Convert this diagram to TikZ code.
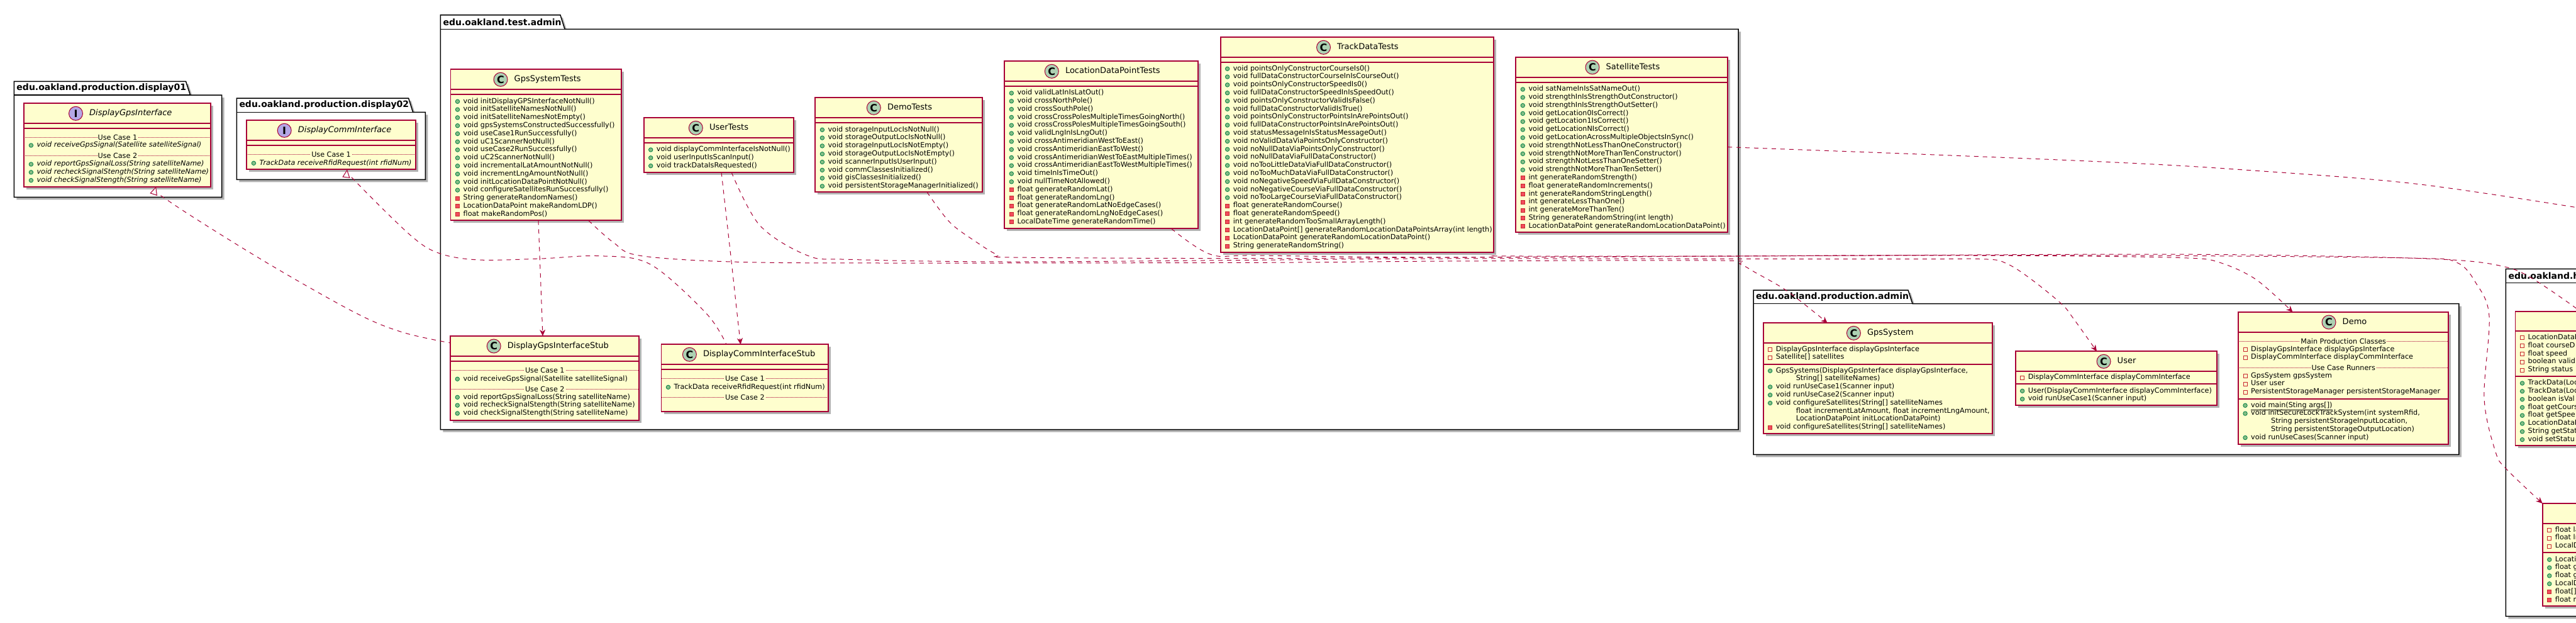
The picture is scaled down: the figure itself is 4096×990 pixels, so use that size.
\documentclass[tikz,border=0pt]{standalone}
\usepackage{fontspec}
\setmainfont{DejaVu Sans}
\usepackage{tikz}
\usetikzlibrary{positioning,calc,shadows,arrows.meta}

\definecolor{classfill}{HTML}{FEFECE}
\definecolor{classline}{HTML}{A80036}
\definecolor{spotCfill}{HTML}{ADD1B2}
\definecolor{spotIfill}{HTML}{B4A7E5}
\definecolor{pubfill}{HTML}{84BE84}
\definecolor{publine}{HTML}{038048}
\definecolor{privfill}{HTML}{F24D5C}
\definecolor{privline}{HTML}{C82930}

\tikzset{
    softshadow/.style={drop shadow={shadow xshift=4pt,shadow yshift=-4pt,fill=black!55,opacity=.55}},
    classbox/.style={rectangle, draw=classline, fill=classfill, line width=1.9pt,
        inner sep=0pt, outer sep=0pt, anchor=north west, softshadow},
    classrule/.style={draw=classline, line width=1.9pt},
    pkgbody/.style={draw=black, fill=white, line width=1.5pt, softshadow},
    pkglabel/.style={font=\fontsize{14}{16}\selectfont\bfseries, anchor=west, inner sep=0pt},
    spotC/.style={circle, draw=classline, fill=spotCfill, line width=1pt, minimum size=22pt, inner sep=0pt,
        font=\fontsize{16}{16}\selectfont\bfseries},
    spotI/.style={spotC, fill=spotIfill},
    classtitle/.style={font=\fontsize{13}{16}\selectfont, inner sep=0pt, text height=10pt, text depth=3pt},
    rowtext/.style={font=\fontsize{11.2}{13}\selectfont, anchor=mid west, inner sep=0pt, xshift=20pt},
    pub/.style={circle, draw=publine, fill=pubfill, line width=.8pt, minimum size=6.5pt, inner sep=0pt, xshift=11pt},
    priv/.style={rectangle, draw=privline, fill=privfill, line width=.8pt, minimum size=6pt, inner sep=0pt, xshift=11pt},
    field/.style={priv, fill=none},
    cont/.style={inner sep=0pt, minimum size=0pt, xshift=11pt},
    seprule/.style={draw=classline, line width=.7pt, dash pattern=on 1pt off 1pt},
    seplabel/.style={font=\fontsize{11.2}{13}\selectfont, fill=classfill, inner sep=1pt},
    dep/.style={draw=classline, line width=1pt, dash pattern=on 7pt off 7pt},
}

% rows of one compartment: box, suffix, first y, kind/text list
\newcommand{\umlrows}[4]{
    \foreach [count=\ri] \kind/\txt in {#4}{
        \pgfmathsetmacro{\rowy}{#3+(\ri-1)*12.8}
        \node[\kind] (#1-#2-\ri-m) at (#1.west |- 0,\rowy) {};
        \node[rowtext] (#1-#2-\ri) at (#1.west |- 0,\rowy) {\txt};
    }
}
% dotted separator with a caption
\newcommand{\umlsep}[4]{
    \draw[seprule] (#1.west |- 0,#3) -- (#1.east |- 0,#3);
    \node[seplabel] (#1-#2) at (#1.center |- 0,#3) {#4};
}
\newcommand{\wrapped}{\hspace*{32pt}}

\begin{document}
\begin{tikzpicture}[x=1pt,y=-1pt]
    \useasboundingbox (0,0) rectangle (4096,990);

    % Packages
    \foreach \pk/\xa/\ya/\tabr/\yb/\xb/\yc/\lbl in {
        display01/22.3/129.3/295.5/151/352.7/313.3/edu.oakland.production.display01,
        display02/376.3/156/649.6/178.3/676.3/285.3/edu.oakland.production.display02,
        testadmin/700.4/24/891/46.3/2764/682.7/edu.oakland.test.admin,
        prodadmin/2788/461/3034/482.7/3909.8/722.3/edu.oakland.production.admin,
        helper/3984.4/427.3/4250/449.3/4400/979.3/edu.oakland.h}{
        \path[pkgbody] (\xa,\yb) -- (\xa,\ya) -- (\tabr,\ya) -- (\tabr+7,\yb) -- (\xb,\yb)
            -- (\xb,\yc) -- (\xa,\yc) -- cycle;
        \draw[line width=1.5pt] (\xa,\yb) -- (\tabr+7,\yb);
        \node[pkglabel] (\pk-label) at (\xa+4,{(\ya+\yb)/2}) {\lbl};
    }

    % Class boxes
    \foreach \cname/\xa/\ya/\xb/\yb/\da/\db in {
        displaygps/38.4/164.3/335.3/296.7/196.3/204.3,
        displaycomm/392.4/191.3/660.7/269.3/223.3/231.3,
        gpstests/716.5/110.3/988.4/350.3/142.3/150.3,
        usertests/1023.7/187.3/1261.6/273.7/219.3/227.3,
        demotests/1296.4/155.3/1561.6/305.3/187.3/195.3,
        ldptests/1597.3/97.3/1905.4/363.3/129.3/137.3,
        tracktests/1940.6/59.3/2375.4/401.3/91.3/99.3,
        sattests/2410.3/91/2747/369.3/123.3/131.3,
        gpsstub/716.3/534/1016.3/667.7/566.3/574.3,
        commstub/1051.5/547.3/1317.3/654.3/579.3/587.3,
        gpssys/2803.6/513.3/3168.4/689.3/545.3/578.7,
        usercls/3204.6/558.3/3524.6/644.3/590.3/610.3,
        democls/3559/496/3893.4/705.7/528.3/633.7,
        trackcls/3999.5/494.7/4400/708.3/526.3/598.3,
        ldpcls/4042.7/800/4400/963.3/832.3/878.3}{
        \node[classbox, minimum width={(\xb-\xa)*1pt}, minimum height={(\yb-\ya)*1pt}] (\cname) at (\xa,\ya) {};
        \draw[classrule] (\cname.west |- 0,\da) -- (\cname.east |- 0,\da);
        \draw[classrule] (\cname.west |- 0,\db) -- (\cname.east |- 0,\db);
    }

    % Headers
    \foreach \cname/\sx/\kind/\ttl in {
        displaygps/120.5/I/{\itshape DisplayGpsInterface},
        displaycomm/452.2/I/{\itshape DisplayCommInterface},
        gpstests/796/C/GpsSystemTests,
        usertests/1106.3/C/UserTests,
        demotests/1389.3/C/DemoTests,
        ldptests/1672.3/C/LocationDataPointTests,
        tracktests/2104.5/C/TrackDataTests,
        sattests/2532/C/SatelliteTests,
        gpsstub/785.2/C/DisplayGpsInterfaceStub,
        commstub/1096.4/C/DisplayCommInterfaceStub,
        gpssys/2947.4/C/GpsSystem,
        usercls/3345/C/User,
        democls/3703/C/Demo}{
        \node[spot\kind, yshift=-16pt] (\cname-spot) at (\sx,0 |- \cname.north) {\kind};
        \node[classtitle, right=10pt of \cname-spot] (\cname-title) {\ttl};
    }

    % Interfaces
    \umlsep{displaygps}{ucone}{218.3}{Use Case 1}
    \umlrows{displaygps}{a}{231}{pub/{\itshape void receiveGpsSignal(Satellite satelliteSignal)}}
    \umlsep{displaygps}{uctwo}{247}{Use Case 2}
    \umlrows{displaygps}{b}{261}{pub/{\itshape void reportGpsSignalLoss(String satelliteName)},
        pub/{\itshape void recheckSignalStength(String satelliteName)},
        pub/{\itshape void checkSignalStength(String satelliteName)}}
    \umlsep{displaycomm}{ucone}{245.3}{Use Case 1}
    \umlrows{displaycomm}{a}{259.3}{pub/{\itshape TrackData receiveRfidRequest(int rfidNum)}}

    % Test classes
    \umlrows{gpstests}{a}{161.3}{pub/{void initDisplayGPSInterfaceNotNull()},
        pub/{void initSatelliteNamesNotNull()},
        pub/{void initSatelliteNamesNotEmpty()},
        pub/{void gpsSystemsConstructedSuccessfully()},
        pub/{void useCase1RunSuccessfully()},
        pub/{void uC1ScannerNotNull()},
        pub/{void useCase2RunSuccessfully()},
        pub/{void uC2ScannerNotNull()},
        pub/{void incrementalLatAmountNotNull()},
        pub/{void incrementLngAmountNotNull()},
        pub/{void initLocationDataPointNotNull()},
        pub/{void configureSatellitesRunSuccessfully()},
        priv/{String generateRandomNames()},
        priv/{LocationDataPoint makeRandomLDP()},
        priv/{float makeRandomPos()}}
    \umlrows{usertests}{a}{238}{pub/{void displayCommInterfaceIsNotNull()},
        pub/{void userInputIsScanInput()},
        pub/{void trackDataIsRequested()}}
    \umlrows{demotests}{a}{206.3}{pub/{void storageInputLocIsNotNull()},
        pub/{void storageOutputLocIsNotNull()},
        pub/{void storageInputLocIsNotEmpty()},
        pub/{void storageOutputLocIsNotEmpty()},
        pub/{void scannerInputIsUserInput()},
        pub/{void commClassesInitialized()},
        pub/{void gisClassesInitialized()},
        pub/{void persistentStorageManagerInitialized()}}
    \umlrows{ldptests}{a}{148}{pub/{void validLatInIsLatOut()},
        pub/{void crossNorthPole()},
        pub/{void crossSouthPole()},
        pub/{void crossCrossPolesMultipleTimesGoingNorth()},
        pub/{void crossCrossPolesMultipleTimesGoingSouth()},
        pub/{void validLngInIsLngOut()},
        pub/{void crossAntimeridianWestToEast()},
        pub/{void crossAntimeridianEastToWest()},
        pub/{void crossAntimeridianWestToEastMultipleTimes()},
        pub/{void crossAntimeridianEastToWestMultipleTimes()},
        pub/{void timeInIsTimeOut()},
        pub/{void nullTimeNotAllowed()},
        priv/{float generateRandomLat()},
        priv/{float generateRandomLng()},
        priv/{float generateRandomLatNoEdgeCases()},
        priv/{float generateRandomLngNoEdgeCases()},
        priv/{LocalDateTime generateRandomTime()}}
    \umlrows{tracktests}{a}{109.3}{pub/{void pointsOnlyConstructorCourseIs0()},
        pub/{void fullDataConstructorCourseInIsCourseOut()},
        pub/{void pointsOnlyConstructorSpeedIs0()},
        pub/{void fullDataConstructorSpeedInIsSpeedOut()},
        pub/{void pointsOnlyConstructorValidIsFalse()},
        pub/{void fullDataConstructorValidIsTrue()},
        pub/{void pointsOnlyConstructorPointsInArePointsOut()},
        pub/{void fullDataConstructorPointsInArePointsOut()},
        pub/{void statusMessageInIsStatusMessageOut()},
        pub/{void noValidDataViaPointsOnlyConstructor()},
        pub/{void noNullDataViaPointsOnlyConstructor()},
        pub/{void noNullDataViaFullDataConstructor()},
        pub/{void noTooLittleDataViaFullDataConstructor()},
        pub/{void noTooMuchDataViaFullDataConstructor()},
        pub/{void noNegativeSpeedViaFullDataConstructor()},
        pub/{void noNegativeCourseViaFullDataConstructor()},
        pub/{void noTooLargeCourseViaFullDataConstructor()},
        priv/{float generateRandomCourse()},
        priv/{float generateRandomSpeed()},
        priv/{int generateRandomTooSmallArrayLength()},
        priv/{LocationDataPoint[] generateRandomLocationDataPointsArray(int length)},
        priv/{LocationDataPoint generateRandomLocationDataPoint()},
        priv/{String generateRandomString()}}
    \umlrows{sattests}{a}{142}{pub/{void satNameInIsSatNameOut()},
        pub/{void strengthInIsStrengthOutConstructor()},
        pub/{void strengthInIsStrengthOutSetter()},
        pub/{void getLocation0IsCorrect()},
        pub/{void getLocation1IsCorrect()},
        pub/{void getLocationNIsCorrect()},
        pub/{void getLocationAcrossMultipleObjectsInSync()},
        pub/{void strengthNotLessThanOneConstructor()},
        pub/{void strengthNotMoreThanTenConstructor()},
        pub/{void strengthNotLessThanOneSetter()},
        pub/{void strengthNotMoreThanTenSetter()},
        priv/{int generateRandomStrength()},
        priv/{float generateRandomIncrements()},
        priv/{int generateRandomStringLength()},
        priv/{int generateLessThanOne()},
        priv/{int generateMoreThanTen()},
        priv/{String generateRandomString(int length)},
        priv/{LocationDataPoint generateRandomLocationDataPoint()}}

    % Stubs
    \umlsep{gpsstub}{ucone}{588.3}{Use Case 1}
    \umlrows{gpsstub}{a}{602.3}{pub/{void receiveGpsSignal(Satellite satelliteSignal)}}
    \umlsep{gpsstub}{uctwo}{618.3}{Use Case 2}
    \umlrows{gpsstub}{b}{631.3}{pub/{void reportGpsSignalLoss(String satelliteName)},
        pub/{void recheckSignalStength(String satelliteName)},
        pub/{void checkSignalStength(String satelliteName)}}
    \umlsep{commstub}{ucone}{601.3}{Use Case 1}
    \umlrows{commstub}{a}{615.3}{pub/{TrackData receiveRfidRequest(int rfidNum)}}
    \umlsep{commstub}{uctwo}{631.3}{Use Case 2}

    % Production classes
    \umlrows{gpssys}{a}{555.3}{field/{DisplayGpsInterface displayGpsInterface},
        field/{Satellite[] satellites}}
    \umlrows{gpssys}{b}{589.3}{pub/{GpsSystems(DisplayGpsInterface displayGpsInterface,},
        cont/{\wrapped String[] satelliteNames)},
        pub/{void runUseCase1(Scanner input)},
        pub/{void runUseCase2(Scanner input)},
        pub/{void configureSatellites(String[] satelliteNames},
        cont/{\wrapped float incrementLatAmount, float incrementLngAmount,},
        cont/{\wrapped LocationDataPoint initLocationDataPoint)},
        priv/{void configureSatellites(String[] satelliteNames)}}
    \umlrows{usercls}{a}{600}{field/{DisplayCommInterface displayCommInterface}}
    \umlrows{usercls}{b}{621.3}{pub/{User(DisplayCommInterface displayCommInterface)},
        pub/{void runUseCase1(Scanner input)}}
    \umlsep{democls}{main}{542.3}{Main Production Classes}
    \umlrows{democls}{a}{555.3}{field/{DisplayGpsInterface displayGpsInterface},
        field/{DisplayCommInterface displayCommInterface}}
    \umlsep{democls}{runners}{584.3}{Use Case Runners}
    \umlrows{democls}{b}{597.3}{field/{GpsSystem gpsSystem},
        field/{User user},
        field/{PersistentStorageManager persistentStorageManager}}
    \umlrows{democls}{c}{644.3}{pub/{\underline{void main(Sting args[])}},
        pub/{void initSecureLockTrackSystem(int systemRfid,},
        cont/{\wrapped String persistentStorageInputLocation,},
        cont/{\wrapped String persistentStorageOutputLocation)},
        pub/{void runUseCases(Scanner input)}}
    \umlrows{trackcls}{a}{536.7}{field/LocationDataP, field/float courseD, field/float speed,
        field/boolean valid, field/String status}
    \umlrows{trackcls}{b}{609}{pub/TrackData(Loc, pub/TrackData(Loc, pub/boolean isVal,
        pub/float getCours, pub/float getSpee, pub/LocationDataP, pub/String getStat, pub/void setStatu}
    \umlrows{ldpcls}{a}{842.3}{field/float la, field/float ln, field/LocalD}
    \umlrows{ldpcls}{b}{889.3}{pub/Locati, pub/float g, pub/float g, pub/LocalD, priv/float[], priv/float r}

    % Realizations
    \draw[dep, {Triangle[fill=white,length=13pt,width=12pt]}-] plot[smooth,tension=.55] coordinates {
        ([xshift=209.8pt]displaygps.south west) (272,322) (420,415) (565,497) (640,528) ([yshift=-11pt]gpsstub.north west)};
    \draw[dep, {Triangle[fill=white,length=13pt,width=12pt]}-] plot[smooth,tension=.55] coordinates {
        ([xshift=159.6pt]displaycomm.south west) (567,290) (654,375) (699,402.7) (761,413) (860,411) (953.6,406.7)
        (1034,420) (1123,498) ([xshift=103.5pt]commstub.north west)};

    % Dependencies
    \draw[dep, -{Stealth[length=10pt,width=9pt,inset=3pt]}] ([xshift=139.5pt]gpstests.south west)
        -- ([xshift=146.7pt]gpsstub.north west);
    \draw[dep, -{Stealth[length=10pt,width=9pt,inset=3pt]}] plot[smooth,tension=.55] coordinates {
        ([xshift=123.3pt]usertests.south west) (1163,416) (1172,498) ([xshift=126.1pt]commstub.north west)};
    \draw[dep, -{Stealth[length=10pt,width=9pt,inset=3pt]}] plot[smooth,tension=.55] coordinates {
        ([xshift=219.2pt]gpstests.south west) (975,385) (1016,406) (1163,416) (1400,418) (2000,417.3) (2300,415) (2733,414)
        (2767,420) (2791,433) (2838,460) (2886,497) ([xshift=102pt]gpssys.north west)};
    \draw[dep, -{Stealth[length=10pt,width=9pt,inset=3pt]}] plot[smooth,tension=.55] coordinates {
        ([xshift=139.3pt]usertests.south west) (1208,358) (1284,406) (1350,412.3) (1600,416) (2000,413.3) (2300,411) (3000,411.7) (3153,411.7)
        (3191,419) (3230,444) (3278,483) (3296,505) ([xshift=129.4pt]usercls.north west)};
    \draw[dep, -{Stealth[length=10pt,width=9pt,inset=3pt]}] plot[smooth,tension=.55] coordinates {
        ([xshift=177.6pt]demotests.south west) (1510,353) (1550,383) (1586,405) (1612,409) (2000,410.7) (2300,409) (3000,406) (3300,407) (3478,410)
        (3529,417) (3587,444) ([xshift=86.5pt]democls.north west)};
    \draw[dep, -{Stealth[length=10pt,width=9pt,inset=3pt]}] plot[smooth,tension=.55] coordinates {
        ([xshift=265.2pt]ldptests.south west) (1925,404.3) (2000,406) (2300,409) (2764,407) (3000,405.7) (3400,406) (3829,410) (3905,416.7)
        (3937,450) (3958,503) (3950,633) (3968,718) (3985,745) (ldpcls.north west)};
    \draw[dep, -{Stealth[length=10pt,width=9pt,inset=3pt]}] plot[smooth,tension=.55] coordinates {
        ([yshift=-5.3pt]tracktests.south east) (2423,407) (2764,407) (3400,404) (3700,407) (3900,413) (3983,424) (4026.7,442.7)
        (4095,489) ([xshift=97.5pt]trackcls.north west)};
    \coordinate (satoff) at (4130,335);
    \draw[dep] plot[smooth,tension=.55] coordinates {
        ([yshift=-3.5pt]sattests.east) (3077,246) (3363,258) (3554,269) (3840,292) (satoff)};
\end{tikzpicture}
\end{document}
